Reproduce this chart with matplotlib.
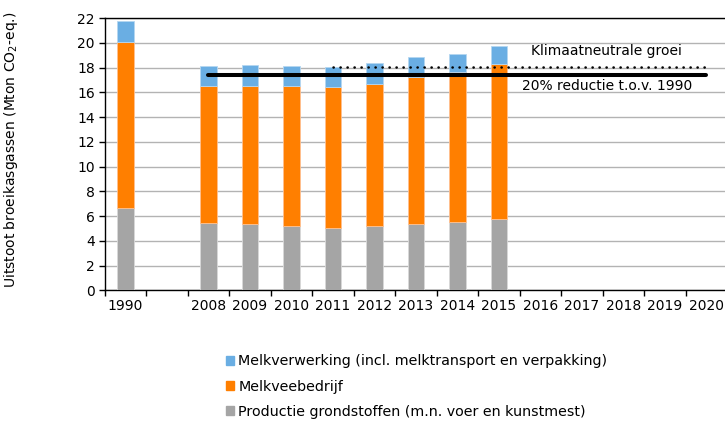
import numpy as np
import matplotlib.pyplot as plt
from matplotlib.patches import Patch

plt.rcParams['font.family'] = ['DejaVu Sans']

# categorieen (lege plek tussen 1990 en 2008)
jaren = ['1990', ''] + [str(j) for j in range(2008, 2021)]

# waarden per component (Mton CO2-eq.), None = geen data
grondstoffen = [6.65, None, 5.41, 5.38, 5.22, 5.03, 5.17, 5.38, 5.49, 5.74,
                None, None, None, None, None]
veebedrijf = [13.44, None, 11.12, 11.15, 11.26, 11.42, 11.53, 11.88, 12.17, 12.52,
              None, None, None, None, None]
verwerking = [1.70, None, 1.62, 1.67, 1.62, 1.62, 1.67, 1.57, 1.44, 1.48,
              None, None, None, None, None]

reductie_doel = 17.43      # 20% onder 1990
klimaatneutraal = 18.07    # niveau 2011

c_grond = '#a5a5a5'
c_vee = '#ff7f00'
c_verw = '#6aaee3'

fig = plt.figure(figsize=(7.25, 4.21), dpi=100)
ax = fig.add_axes([0.1444, 0.3104, 0.8585, 0.6468])

x = np.arange(len(jaren))
idx = [i for i, v in enumerate(grondstoffen) if v is not None]
g = np.array([grondstoffen[i] for i in idx])
v = np.array([veebedrijf[i] for i in idx])
w = np.array([verwerking[i] for i in idx])
xi = x[idx]

ax.bar(xi, g, width=0.4, color=c_grond, edgecolor='#d9d9d9', linewidth=0.6, zorder=3)
ax.bar(xi, v, width=0.4, bottom=g, color=c_vee, edgecolor='#ffc090', linewidth=0.6, zorder=3)
ax.bar(xi, w, width=0.4, bottom=g + v, color=c_verw, edgecolor='#b5d7f1', linewidth=0.6, zorder=3)

ax.plot([jaren.index('2011'), jaren.index('2020')], [klimaatneutraal] * 2, color='black',
        lw=1.8, linestyle=(0, (0.1, 2.7)), dash_capstyle='round', zorder=4)
ax.plot([jaren.index('2008'), jaren.index('2020')], [reductie_doel] * 2, color='black',
        lw=2.9, solid_capstyle='round', zorder=4)

ax.text(11.6, 19.3, 'Klimaatneutrale groei', ha='center', va='center', fontsize=10)
ax.text(11.6, 16.5, '20% reductie t.o.v. 1990', ha='center', va='center', fontsize=10)

ax.set_xlim(-0.5, len(jaren) - 0.5)
ax.set_ylim(0, 22)
ax.set_yticks(range(0, 23, 2))
ax.yaxis.grid(True, color='#b3b3b3', lw=1.0, zorder=0)
ax.set_axisbelow(True)

ax.set_xticks(x)
ax.set_xticklabels(jaren, fontsize=10)
ax.set_xticks(np.arange(-0.5, len(jaren), 1), minor=True)
ax.tick_params(axis='x', which='major', length=0, pad=6)
ax.tick_params(axis='x', which='minor', length=4, width=1, direction='out')
ax.tick_params(axis='y', length=4, width=1, direction='out', labelsize=10, pad=3)

for s in ['left', 'bottom', 'top']:
    ax.spines[s].set_color('black')
    ax.spines[s].set_linewidth(1.0)
ax.spines['right'].set_visible(False)

ax.set_ylabel('Uitstoot broeikasgassen (Mton CO$_2$-eq.)', fontsize=10)
ax.yaxis.set_label_coords(-0.136, 0.515)

handles = [Patch(color=c_verw), Patch(color=c_vee), Patch(color=c_grond)]
labels = ['Melkverwerking (incl. melktransport en verpakking)',
          'Melkveebedrijf',
          'Productie grondstoffen (m.n. voer en kunstmest)']
fig.legend(handles, labels, loc='upper left', bbox_to_anchor=(0.3117, 0.158),
           frameon=False, fontsize=10.3, handlelength=0.55, handleheight=0.55,
           handletextpad=0.3, labelspacing=0.78, borderpad=0, borderaxespad=0)

fig.savefig('out.png', dpi=100)
